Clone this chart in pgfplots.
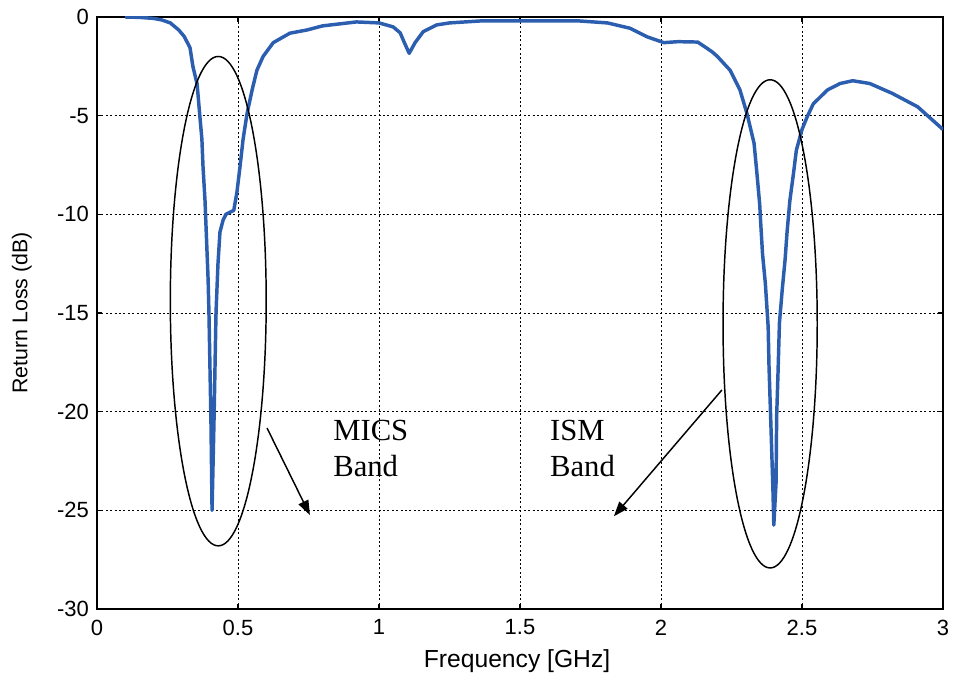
\documentclass[border=0pt]{standalone}
\usepackage{pgfplots}
\pgfplotsset{compat=1.18}
\usepackage{fontspec}
\setmainfont{Liberation Sans}
\newfontfamily\seriffont{Liberation Serif}
\usetikzlibrary{arrows.meta}
\definecolor{curveblue}{RGB}{43,94,175}
\begin{document}
\begin{tikzpicture}
\useasboundingbox (-72.75pt,-49.5pt) rectangle (643.5pt,456.75pt);
\begin{axis}[
  at={(0,0)}, anchor=south west,
  scale only axis, width=634.5pt, height=444pt,
  xmin=0, xmax=3, ymin=-30, ymax=0,
  xtick={0,0.5,1,1.5,2,2.5,3},
  ytick={-30,-25,-20,-15,-10,-5,0},
  /pgf/number format/assume math mode=true,
  tick label style={font=\fontsize{16.5}{19}\selectfont},
  xticklabel style={yshift=-4.5pt},
  yticklabel style={xshift=-2.5pt},
  tick align=inside, tick pos=both,
  major tick length=4pt,
  tick style={black, line width=0.8pt},
  axis line style={black, line width=1pt},
  grid=major,
  major grid style={black, line width=0.6pt, dash pattern=on 1.5pt off 1.8pt},
  xlabel={Frequency [GHz]},
  ylabel={Return Loss (dB)},
  xlabel style={font=\fontsize{18.5}{22}\selectfont, at={(axis description cs:0.4965,-0.098)}, anchor=base},
  ylabel style={font=\fontsize{16}{19}\selectfont, at={(axis description cs:-0.0887,0.5)}, anchor=center},
]
\addplot[curveblue, line width=2.6pt, line join=round] coordinates {
(0.1,0) (0.15,-0.02) (0.2,-0.07) (0.23,-0.15) (0.26,-0.3) (0.29,-0.66)
(0.31,-1.0) (0.33,-1.57) (0.34,-2.5) (0.355,-3.4) (0.365,-5.07) (0.372,-6.2)
(0.376,-7.6) (0.383,-9.3) (0.394,-13.3) (0.397,-15.0) (0.404,-20.4) (0.408,-25.0)
(0.415,-20.4) (0.422,-15.0) (0.429,-12.5) (0.436,-10.9) (0.447,-10.3) (0.457,-10.0)
(0.485,-9.8) (0.496,-8.9) (0.507,-7.6) (0.518,-6.2) (0.532,-4.9) (0.55,-3.7)
(0.567,-2.7) (0.589,-2.0) (0.625,-1.3) (0.684,-0.82) (0.744,-0.66) (0.80,-0.45)
(0.92,-0.25) (1.0,-0.3) (1.05,-0.5) (1.075,-0.8) (1.09,-1.3) (1.107,-1.84)
(1.128,-1.3) (1.157,-0.74) (1.205,-0.4) (1.25,-0.3) (1.36,-0.2) (1.71,-0.2)
(1.81,-0.3) (1.89,-0.57) (1.95,-1.0) (2.01,-1.3) (2.06,-1.25) (2.13,-1.27)
(2.18,-1.75) (2.2,-2.0) (2.245,-2.7) (2.28,-3.7) (2.305,-4.9) (2.33,-6.4)
(2.34,-7.9) (2.35,-9.5) (2.353,-10.3) (2.36,-12.0) (2.37,-13.5) (2.38,-15.7)
(2.383,-17.7) (2.39,-20.8) (2.397,-24.0) (2.40,-25.75) (2.408,-23.6) (2.41,-20.3)
(2.415,-18.0) (2.42,-15.5) (2.43,-13.8) (2.44,-12.3) (2.447,-10.9) (2.457,-9.3)
(2.47,-7.9) (2.48,-6.75) (2.5,-5.7) (2.518,-5.07) (2.54,-4.4) (2.59,-3.7)
(2.635,-3.37) (2.68,-3.23) (2.74,-3.37) (2.82,-3.87) (2.91,-4.55) (3.0,-5.7)
};
\draw[black, line width=1.1pt] (axis cs:0.43,-14.4) ellipse [x radius=0.17, y radius=12.4];
\draw[black, line width=1.1pt] (axis cs:2.387,-15.55) ellipse [x radius=0.167, y radius=12.37];
\draw[black, line width=1.1pt, -{Triangle[length=11pt,width=8pt]}] (axis cs:0.603,-20.83) -- (axis cs:0.755,-25.24);
\draw[black, line width=1.1pt, -{Triangle[length=11pt,width=8pt]}] (axis cs:2.216,-18.9) -- (axis cs:1.833,-25.3);
\node[anchor=base west, inner sep=0pt, font=\seriffont\fontsize{23}{27}\selectfont] at (axis cs:0.837,-21.44) {MICS};
\node[anchor=base west, inner sep=0pt, font=\seriffont\fontsize{23}{27}\selectfont] at (axis cs:0.837,-23.31) {Band};
\node[anchor=base west, inner sep=0pt, font=\seriffont\fontsize{23}{27}\selectfont] at (axis cs:1.606,-21.44) {ISM};
\node[anchor=base west, inner sep=0pt, font=\seriffont\fontsize{23}{27}\selectfont] at (axis cs:1.606,-23.31) {Band};
\end{axis}
\end{tikzpicture}
\end{document}
